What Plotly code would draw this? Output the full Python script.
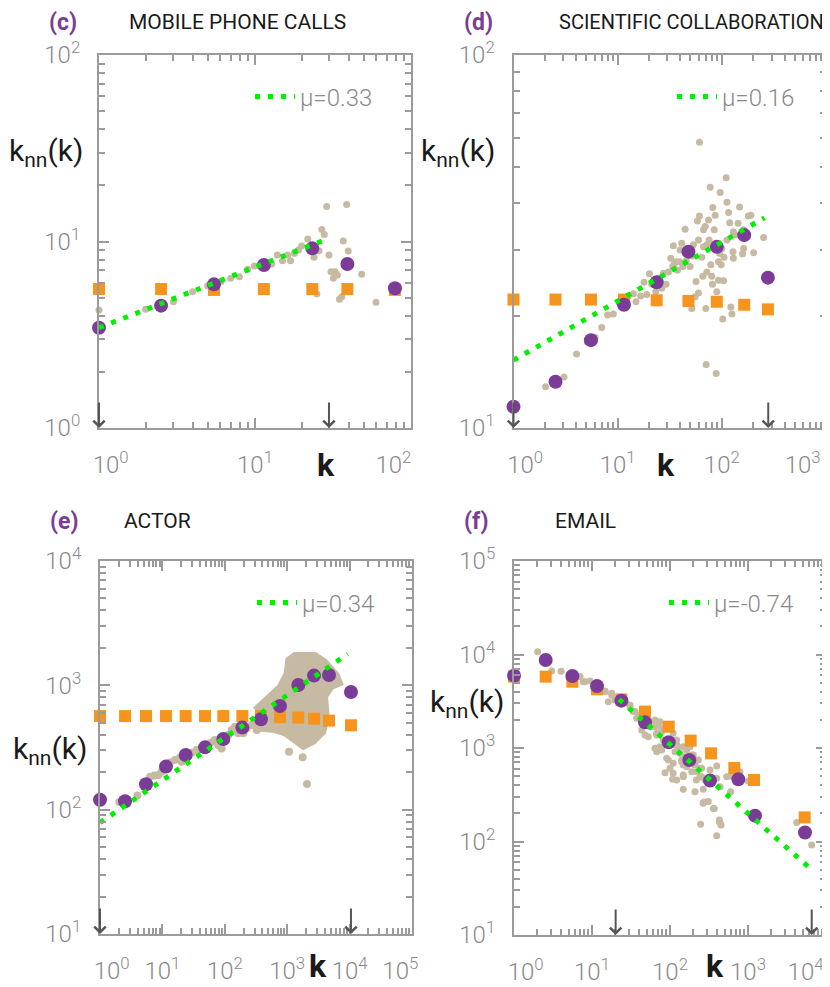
import numpy as np
import plotly.graph_objects as go

# ---------------- DATA ----------------
# (c) mobile phone calls
c_raw_k = [1, 1.99, 3.0, 3.98, 4.97, 6.03, 6.98, 7.94, 8.98, 9.9, 12.8, 13.9, 15.0, 16.2, 16.9, 17.9,
           19.0, 19.9, 21.8, 23.9, 24.9, 25.7, 26.8, 27.8, 28.8, 29.8, 30.7, 31.8, 32.6, 33.7, 34.8,
           36.0, 36.8, 38.7, 39.6, 48.3, 59.7]
c_raw_knn = [4.29, 4.33, 4.76, 5.38, 5.79, 6.09, 6.35, 6.48, 7.09, 7.39, 7.57, 8.47, 7.89, 8.47, 7.89,
             8.64, 9.0, 9.46, 10.3, 8.23, 5.23, 8.93, 11.6, 10.9, 15.4, 8.47, 6.89, 6.35, 6.89, 6.61,
             4.90, 5.06, 10.07, 15.8, 8.9, 6.67, 4.72]
c_bin_k = [1, 2.5, 5.46, 11.4, 23.3, 39.1, 78.9]
c_bin_knn = [3.45, 4.53, 5.89, 7.48, 9.19, 7.57, 5.61]
c_rand_knn = [5.56, 5.56, 5.5, 5.56, 5.56, 5.56, 5.5]
c_fit_k = [1, 28.1]
c_fit_knn = [3.45, 10.2]
c_cut_k = [1, 29.8]

# (d) scientific collaboration
d_raw_k = [2.03, 3.05, 4.03, 5.11, 6.05, 7.02, 8.01, 9.08, 10.5, 12.7, 14.2, 15.0, 16.6, 17.9, 19.0,
           20.2, 21.2, 23.2, 24.6, 26.5, 27.5, 29.2, 30.7, 32.3, 33.8, 34.3, 34.8, 36.4, 37.5, 39.2,
           39.7, 41.2, 42.2, 44.4, 45.4, 46.1, 49.6, 51.5, 51.5, 53.4, 55.4, 56.6, 58.3, 59.7, 59.7,
           61.0, 61.0, 64.2, 65.6, 66.6, 66.6, 69.2, 70.2, 70.7, 71.8, 71.8, 74.5, 75.5, 77.3, 78.4,
           80.1, 81.3, 81.9, 84.4, 86.3, 88.3, 89.5, 92.9, 92.9, 95.0, 96.4, 98.6, 100, 102, 104,
           105, 110, 112, 112, 116, 119, 122, 125, 128, 129, 129, 134, 143, 148, 158, 162, 162, 180,
           190, 202, 252]
d_raw_knn = [12.9, 13.7, 15.8, 17.0, 17.5, 18.6, 20.1, 20.2, 21.6, 22.6, 22.9, 21.8, 22.6, 24.6, 22.8,
             25.9, 24.3, 23.2, 25.2, 23.7, 26.0, 24.3, 26.2, 28.5, 27.1, 30.8, 27.5, 27.9, 26.5, 27.9,
             30.0, 31.3, 27.1, 34.1, 28.1, 30.0, 27.1, 28.9, 20.9, 31.0, 22.5, 24.7, 35.9, 31.9, 23.0,
             37.0, 58.4, 28.7, 25.5, 34.0, 30.6, 34.7, 20.9, 14.8, 26.2, 31.0, 36.1, 31.9, 44.2, 27.4,
             25.5, 24.3, 39.0, 34.0, 37.2, 14.0, 23.2, 24.9, 27.9, 29.4, 42.8, 27.4, 30.3, 19.6, 24.8,
             28.7, 46.9, 40.3, 31.9, 37.8, 35.5, 21.1, 20.2, 29.7, 28.5, 33.6, 32.9, 35.4, 39.1, 29.3,
             30.3, 34.0, 37.0, 37.2, 29.5, 32.4]
d_bin_k = [1, 2.53, 5.54, 11.5, 23.7, 47.8, 89.5, 164, 277]
d_bin_knn = [11.4, 13.3, 17.2, 21.4, 24.6, 29.7, 30.6, 32.9, 25.3]
d_rand_knn = [22.1, 22.1, 22.1, 22.1, 22.0, 21.9, 21.8, 21.4, 20.8]
d_fit_k = [1, 257]
d_fit_knn = [15.2, 36.6]
d_cut_k = [1, 279]

# (e) actor
e_raw_k = [2.04, 3.97, 6.33, 7.43, 8.61, 9.73, 13.2, 15.9, 19.1, 20.4, 29.4, 35.4, 42.6, 51.2, 57.9,
           65.5, 69.7, 78.8, 89.1, 101, 114, 129, 146, 165, 198, 224, 270, 324, 441, 1069, 1770, 2076]
e_raw_knn = [115, 130, 184, 188, 190, 202, 239, 251, 262, 243, 287, 302, 311, 321, 342,
             353, 363, 331, 311, 386, 399, 437, 465, 411, 411, 451, 480, 437, 577, 292, 264, 161]
# envelope of the dense cloud of actor points
e_cloud_k = [305, 498, 767, 982, 1042, 1334, 2791, 4034, 6210, 7018, 5164, 4034, 4300, 3793,
             2624, 1816, 1253, 923, 637, 305]
e_cloud_knn = [634, 811, 975, 1250, 1600, 1754, 1754, 1549, 1211, 1038, 975, 811, 560, 424,
               352, 321, 363, 411, 437, 451]
e_bin_k = [1, 2.52, 5.46, 11.4, 23.6, 48.2, 94.7, 191, 380, 767, 1508, 2690, 4677, 10520]
e_bin_knn = [120, 117, 160, 222, 275, 317, 370, 457, 533, 682, 1007, 1197, 1211, 883]
e_rand_knn = [566, 566, 566, 566, 566, 566, 566, 566, 566, 553, 550, 540, 520, 477]
e_fit_k = [1, 9310]
e_fit_knn = [78.5, 1786]
e_cut_k = [1, 10520]

# (f) email
f_raw_k = [2.01, 3.04, 4.01, 7.02, 7.74, 8.13, 9.43, 14.7, 14.7, 16.2, 17.9, 17.9, 19.7, 26.5, 30.7,
           30.7, 33.9, 35.6, 37.4, 39.3, 43.3, 47.8, 52.7, 55.4, 58.2, 64.2, 64.2, 64.2, 67.5, 67.5,
           67.5, 70.8, 74.5, 74.5, 78.2, 78.2, 78.2, 82.1, 86.3, 90.6, 95.2, 100, 108, 110, 110, 110,
           116, 122, 122, 122, 128, 134, 141, 141, 148, 148, 148, 148, 148, 156, 164, 164, 180, 190,
           190, 199, 209, 209, 209, 218, 220, 231, 243, 243, 247, 255, 255, 267, 267, 267, 275, 281,
           310, 310, 326, 360, 370, 397, 397, 397, 429, 429, 438, 446, 451, 532, 600, 600, 789, 1010,
           1061, 4210, 6550]
f_raw_knn = [10700, 6670, 6610, 5800, 5120, 5120, 5200, 4070, 4000, 3130, 3850, 3690, 3260, 3130, 2770,
             2880, 2450, 2450, 2080, 2250, 1560, 1380, 1320, 1690, 1910, 1990, 991, 1690, 1440, 914,
             1380, 1840, 1910, 1030, 1500, 952, 1620, 1220, 545, 775, 745, 607, 462, 1440, 686, 536,
             914, 1220, 1077, 455, 1030, 877, 745, 715, 658, 514, 361, 1030, 493, 807, 952, 631, 1030, 841,
             558, 841, 658, 341, 686, 455, 558, 745, 493, 607, 153, 607, 493, 361, 256, 260, 264, 455,
             267, 914, 582, 226, 226, 641, 474, 115, 163, 170, 385, 154, 150, 493, 502, 341, 558, 444,
             448, 160, 91.8]
f_bin_k = [1, 2.55, 5.60, 11.6, 23.8, 47.8, 96.2, 177, 326, 752, 1230, 5380]
f_bin_knn = [5940, 8730, 5890, 4600, 3210, 1880, 1150, 745, 448, 462, 189, 125]
f_rand_k = [1, 2.55, 5.60, 11.6, 23.8, 47.8, 96.2, 184, 336, 668, 1194, 5330]
f_rand_knn = [5800, 5800, 5120, 4240, 3310, 2450, 1690, 1200, 877, 611, 455, 181]
f_fit_k = [22.2, 6050]
f_fit_knn = [3310, 53]
f_cut_k = [20.1, 6560]

titles = ["MOBILE PHONE CALLS", "SCIENTIFIC COLLABORATION", "ACTOR", "EMAIL"]
letters = ["(c)", "(d)", "(e)", "(f)"]
mu_labels = ["\u03bc=0.33", "\u03bc=0.16", "\u03bc=0.34", "\u03bc=-0.74"]
x_exps = [[0, 1, 2], [0, 1, 2, 3], [0, 1, 2, 3, 4, 5], [0, 1, 2, 3, 4]]
y_exps = [[0, 1, 2], [1, 2], [1, 2, 3, 4], [1, 2, 3, 4, 5]]

# ---------------- STYLE / LAYOUT ----------------
PURPLE = "#7b3c98"
ORANGE = "#f7941d"
TAN = "#c7baa2"
GREEN = "#00f000"
AXIS = "#9b9b9b"
TICKGRAY = "#8a8a8a"
FONT = "Roboto"
NB = "\u00a0"

# the page body has an 8px margin: the figure is drawn 8px smaller and all
# placements below are given in window pixels and converted.
OFF = 8
W, H = 830 - OFF, 987 - OFF


def fx(px):
    return (px - OFF) / W


def fy(py):
    return (987 - py) / H


box_x = [(99, 411), (513.5, 826), (100, 412), (514, 826)]
box_y = [(55, 428), (55, 428), (561, 934), (561, 935)]
doms_x = [[fx(a), fx(b)] for a, b in box_x]
doms_y = [[fy(b), fy(a)] for a, b in box_y]

first_pad = [4, 4, 4, 4]
last_pad = [6, 8, 4, 7]

fig = go.Figure()

panels = [
    dict(raw_k=c_raw_k, raw_knn=c_raw_knn, bin_k=c_bin_k, bin_knn=c_bin_knn, rand_k=c_bin_k,
         rand_knn=c_rand_knn, fit_k=c_fit_k, fit_knn=c_fit_knn, cut=c_cut_k),
    dict(raw_k=d_raw_k, raw_knn=d_raw_knn, bin_k=d_bin_k, bin_knn=d_bin_knn, rand_k=d_bin_k,
         rand_knn=d_rand_knn, fit_k=d_fit_k, fit_knn=d_fit_knn, cut=d_cut_k),
    dict(raw_k=e_raw_k, raw_knn=e_raw_knn, bin_k=e_bin_k, bin_knn=e_bin_knn, rand_k=e_bin_k,
         rand_knn=e_rand_knn, fit_k=e_fit_k, fit_knn=e_fit_knn, cut=e_cut_k),
    dict(raw_k=f_raw_k, raw_knn=f_raw_knn, bin_k=f_bin_k, bin_knn=f_bin_knn, rand_k=f_rand_k,
         rand_knn=f_rand_knn, fit_k=f_fit_k, fit_knn=f_fit_knn, cut=f_cut_k),
]

legend_px = [(250, 97), (672, 97), (252, 603), (664, 603)]


def minor_vals(exps):
    return [m * 10 ** e for e in range(exps[0], exps[-1]) for m in range(2, 10)]


annotations = []
for i, p in enumerate(panels):
    sfx = "" if i == 0 else str(i + 1)
    xa, ya = "x" + sfx, "y" + sfx
    leg = "legend" if i == 0 else "legend" + str(i + 1)
    tan_size = 8 if i == 2 else 7
    if i == 2:
        fig.add_trace(go.Scatter(x=e_cloud_k, y=e_cloud_knn, xaxis=xa, yaxis=ya, mode="lines",
                                 fill="toself", fillcolor=TAN, line=dict(color=TAN, width=6),
                                 showlegend=False, hoverinfo="skip"))
    fig.add_trace(go.Scatter(x=p["raw_k"], y=p["raw_knn"], xaxis=xa, yaxis=ya, mode="markers",
                             marker=dict(color=TAN, size=tan_size), showlegend=False, cliponaxis=False))
    fig.add_trace(go.Scatter(x=p["rand_k"], y=p["rand_knn"], xaxis=xa, yaxis=ya, mode="markers",
                             marker=dict(color=ORANGE, size=12, symbol="square"), showlegend=False,
                             cliponaxis=False))
    fig.add_trace(go.Scatter(x=p["bin_k"], y=p["bin_knn"], xaxis=xa, yaxis=ya, mode="markers",
                             marker=dict(color=PURPLE, size=14), showlegend=False, cliponaxis=False))
    fig.add_trace(go.Scatter(x=p["fit_k"], y=p["fit_knn"], xaxis=xa, yaxis=ya, mode="lines",
                             line=dict(color=GREEN, width=5, dash="5px,8px"), name=mu_labels[i],
                             legend=leg, showlegend=True, cliponaxis=False))

    xe, ye = x_exps[i], y_exps[i]
    xt = ["10<sup>%d</sup>" % e for e in xe]
    xt[0] = NB * first_pad[i] + xt[0]
    xt[-1] = xt[-1] + NB * last_pad[i]
    common = dict(type="log", ticks="inside", ticklen=10, tickwidth=2, tickcolor=AXIS,
                  showline=True, linecolor=AXIS, linewidth=2, mirror="ticks", showgrid=False,
                  zeroline=False, tickmode="array", automargin=False, ticklabeloverflow="allow",
                  tickfont=dict(family=FONT, size=24, color=TICKGRAY, weight=300))
    fig.layout["xaxis" + sfx] = dict(
        common, domain=doms_x[i], range=[xe[0], xe[-1]], anchor=ya,
        tickvals=[10 ** e for e in xe], ticktext=xt,
        ticklabelstandoff=14,
        minor=dict(tickvals=minor_vals(xe), ticks="inside", ticklen=6, tickwidth=1.5,
                   tickcolor=AXIS, showgrid=False))
    fig.layout["yaxis" + sfx] = dict(
        common, domain=doms_y[i], range=[ye[0], ye[-1]], anchor=xa,
        tickvals=[10 ** e for e in ye], ticktext=["10<sup>%d</sup>" % e for e in ye],
        ticklabelstandoff=12,
        minor=dict(tickvals=minor_vals(ye), ticks="inside", ticklen=6, tickwidth=1.5,
                   tickcolor=AXIS, showgrid=False))

    lpx, lpy = legend_px[i]
    fig.layout[leg] = dict(x=fx(lpx), y=fy(lpy), xanchor="left", yanchor="middle",
                           bgcolor="rgba(0,0,0,0)", borderwidth=0, itemwidth=40,
                           font=dict(family=FONT, size=24, color=TICKGRAY, weight=300))

    # cut-off arrows
    for kc in p["cut"]:
        annotations.append(dict(x=np.log10(kc), y=ye[0], xref=xa, yref=ya, showarrow=True,
                                ax=0, ay=-27, arrowhead=4, arrowsize=1.1, arrowwidth=2,
                                arrowcolor="#555555", standoff=0, text=""))

# k axis labels (window pixels)
k_px = [(326, 465), (666, 465), (318, 966), (715, 966)]
for (x, y) in k_px:
    annotations.append(dict(x=fx(x), y=fy(y), xref="paper", yref="paper", text="<b>k</b>",
                            showarrow=False, font=dict(family=FONT, size=32, color="#1a1a1a"),
                            xanchor="center", yanchor="middle"))

# y axis titles
ytit_px = [(46, 153), (458, 153), (50, 750), (467, 703)]
for (x, y) in ytit_px:
    annotations.append(dict(x=fx(x), y=fy(y), xref="paper", yref="paper", text="k<sub>nn</sub>(k)",
                            showarrow=False, font=dict(family=FONT, size=30, color="#1a1a1a"),
                            xanchor="center", yanchor="middle"))

# panel letters and titles
let_px = [(63, 22), (478, 22), (64, 521), (476, 521)]
tit_px = [(127, 22), (557, 22), (122, 521), (553, 521)]
tit_size = [21, 20, 21, 21]
for i in range(4):
    lx, ly = let_px[i]
    annotations.append(dict(x=fx(lx), y=fy(ly), xref="paper", yref="paper",
                            text="<b>%s</b>" % letters[i], showarrow=False,
                            font=dict(family=FONT, size=23, color=PURPLE),
                            xanchor="center", yanchor="middle"))
    tx, ty = tit_px[i]
    annotations.append(dict(x=fx(tx), y=fy(ty), xref="paper", yref="paper", text=titles[i],
                            showarrow=False, font=dict(family=FONT, size=tit_size[i], color="#1a1a1a"),
                            xanchor="left", yanchor="middle"))

fig.update_layout(width=W, height=H,
                  margin=dict(l=0, r=0, t=0, b=0, pad=0, autoexpand=False),
                  paper_bgcolor="white", plot_bgcolor="white", annotations=annotations,
                  font=dict(family=FONT))

fig.write_html("out.html")
